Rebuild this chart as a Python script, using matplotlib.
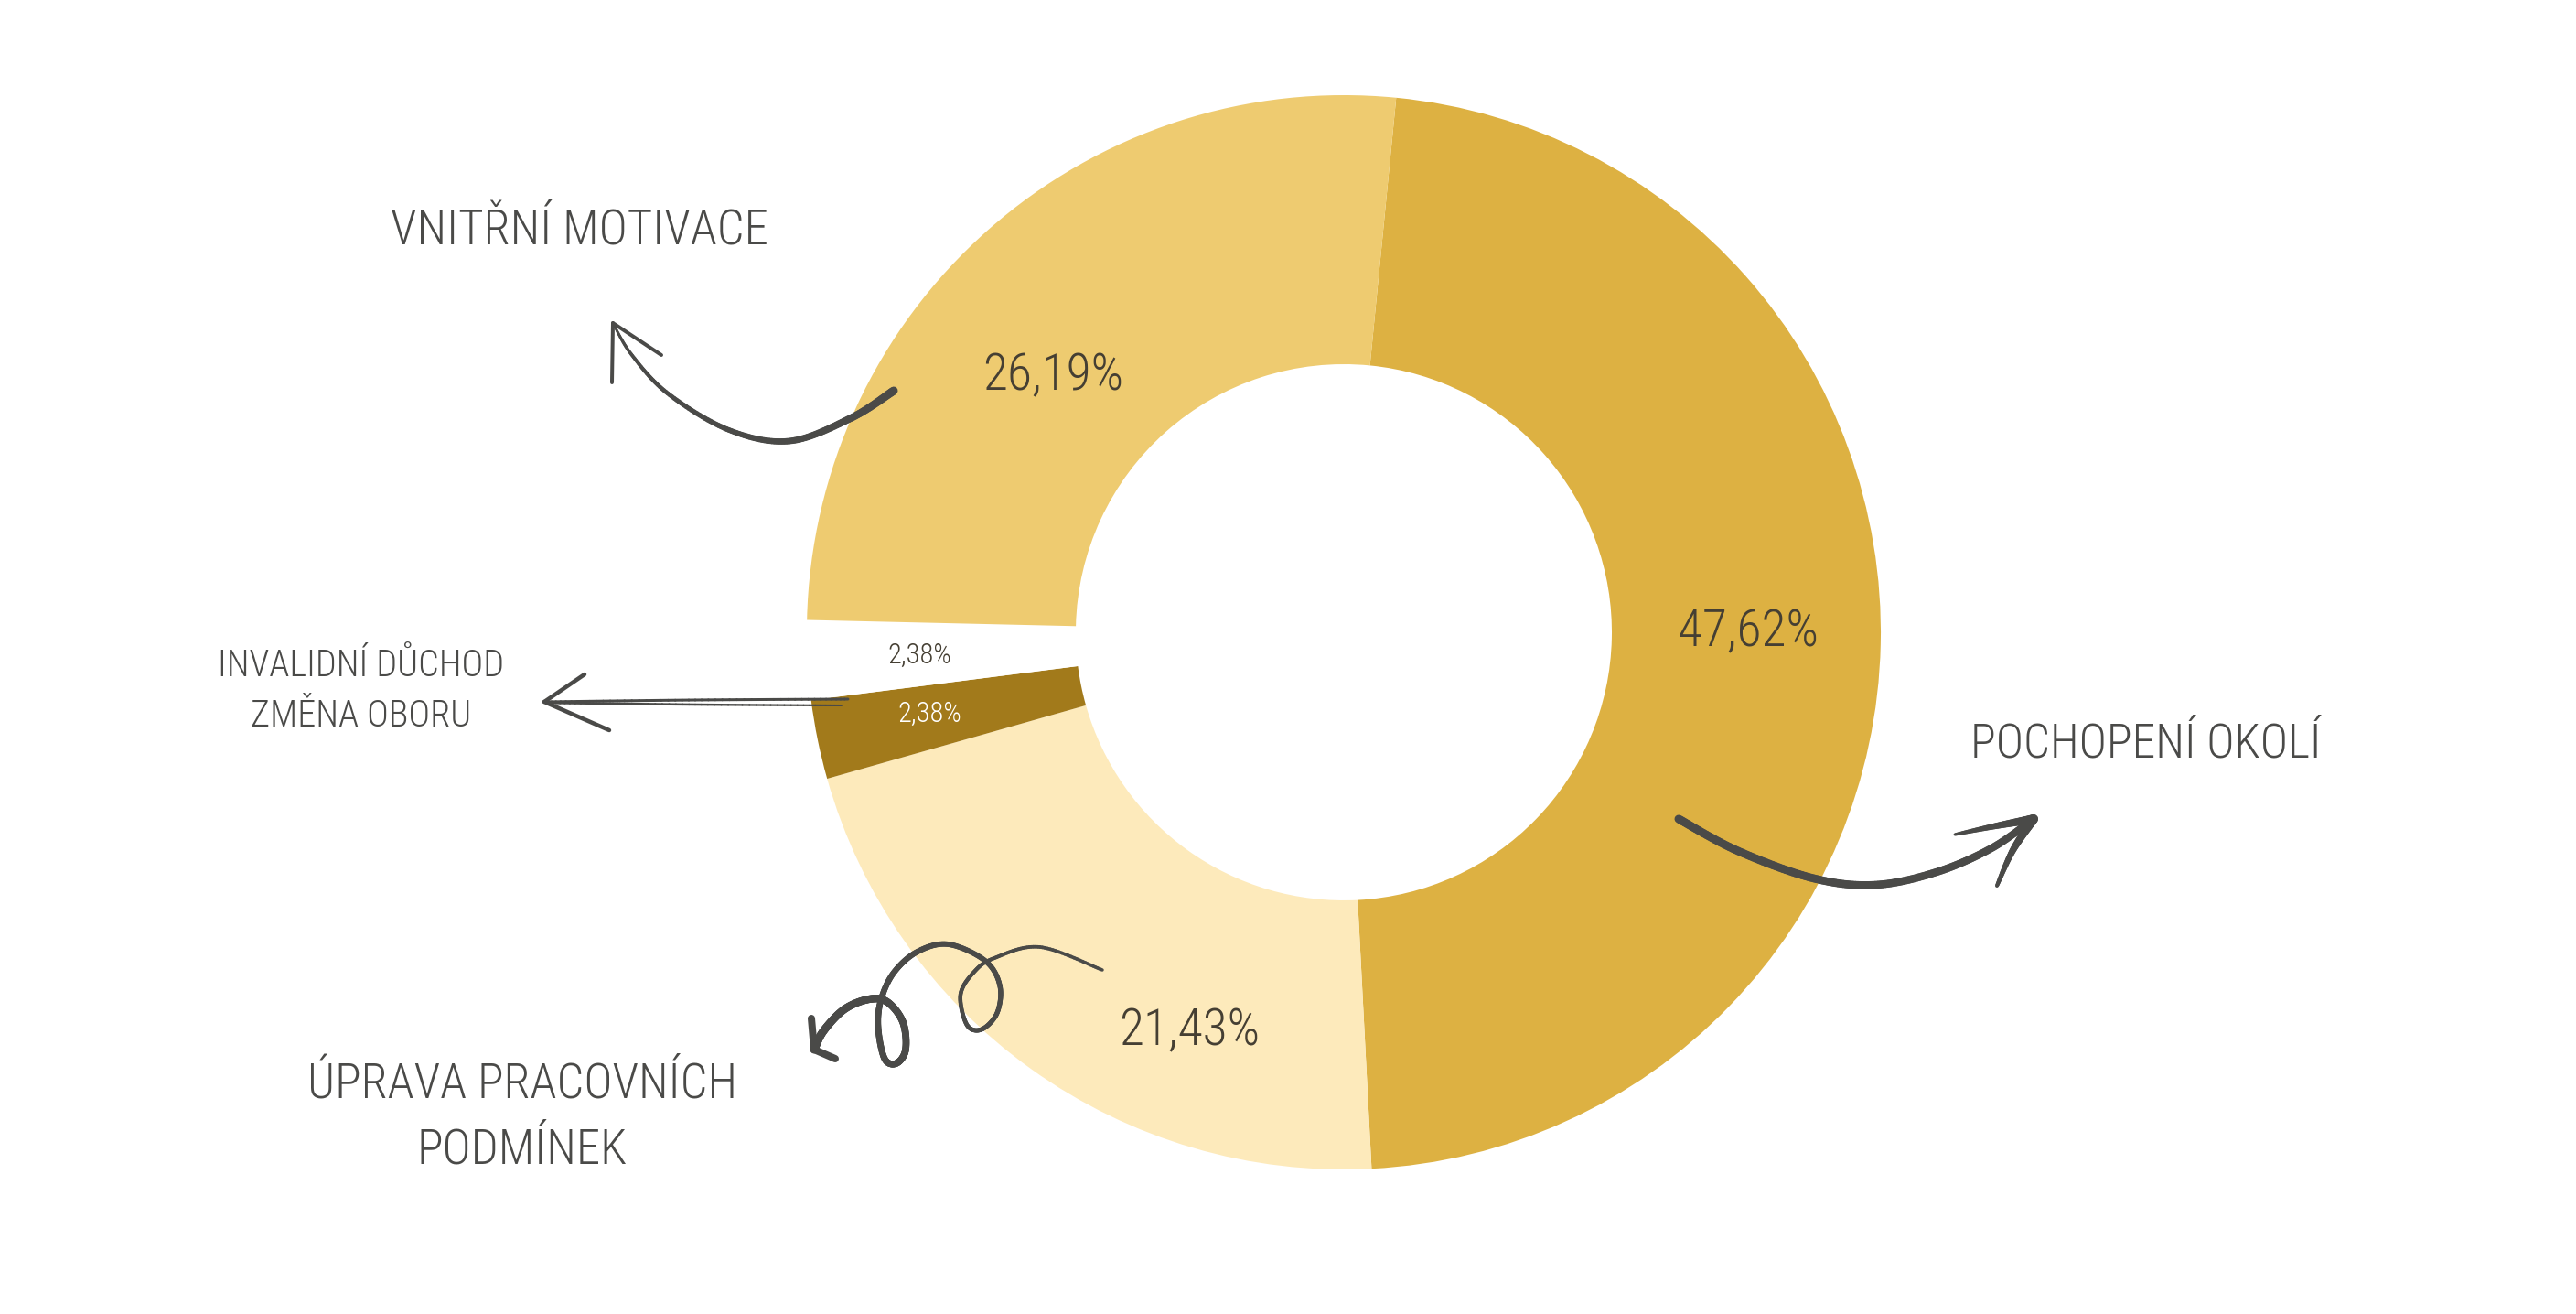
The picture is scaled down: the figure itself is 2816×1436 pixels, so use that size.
import numpy as np
import matplotlib
matplotlib.use("Agg")
import matplotlib.pyplot as plt
from matplotlib import font_manager
from matplotlib.collections import LineCollection

# data
labels = ["POCHOPENÍ OKOLÍ", "ÚPRAVA PRACOVNÍCH\nPODMÍNEK", "ZMĚNA OBORU", "INVALIDNÍ DŮCHOD", "VNITŘNÍ MOTIVACE"]
values = [47.62, 21.43, 2.38, 2.38, 26.19]
colors = ["#DDB142", "#FDEABB", "#A27A1B", "#FFFFFF", "#EECB70"]
pct_text = ["47,62%", "21,43%", "2,38%", "2,38%", "26,19%"]

W, H = 2816, 1436
INK = "#4a4a48"
PCT_INK = "#453f33"

# pick the narrowest font we have
names = {f.name for f in font_manager.fontManager.ttflist}
font = "DejaVu Sans"
for cand in ["Liberation Sans Narrow", "Roboto Condensed", "Open Sans Condensed", "DejaVu Sans"]:
	if cand in names:
		font = cand
		break
TXT = dict(family=font, fontstretch="condensed", fontweight="light")

def Y(y):
	# image y (top down) to axes y
	return H - y

def smooth(pts, n=24):
	# catmull-rom through hand picked points of a pen stroke
	pts = np.array(pts, float)
	P = np.vstack([pts[0], pts, pts[-1]])
	out = []
	t = np.linspace(0, 1, n, endpoint=False)[:, None]
	for i in range(1, len(P) - 2):
		p0, p1, p2, p3 = P[i - 1], P[i], P[i + 1], P[i + 2]
		out.append(0.5 * ((2 * p1) + (-p0 + p2) * t + (2 * p0 - 5 * p1 + 4 * p2 - p3) * t ** 2
			+ (-p0 + 3 * p1 - 3 * p2 + p3) * t ** 3))
	out.append(P[-2][None])
	return np.vstack(out)

def stroke(ax, pts, w0, w1):
	# pen stroke with width going from w0 to w1 (pixels)
	c = smooth(pts)
	c[:, 1] = H - c[:, 1]
	segs = np.stack([c[:-1], c[1:]], axis=1)
	lw = np.linspace(w0, w1, len(segs)) * 0.72
	ax.add_collection(LineCollection(segs, linewidths=lw, colors=INK, capstyle="round", joinstyle="round", zorder=5))

def arm(ax, a, b, w):
	ax.plot([a[0], b[0]], [Y(a[1]), Y(b[1])], color=INK, lw=w * 0.72, solid_capstyle="round", zorder=5)

fig = plt.figure(figsize=(28.16, 14.36), dpi=100)
ax = fig.add_axes([0, 0, 1, 1])

# donut
ax.pie(values, colors=colors, startangle=84.4, counterclock=False, radius=587,
	center=(1469, Y(691)), wedgeprops=dict(width=294, linewidth=0))
ax.set_xlim(0, W)
ax.set_ylim(0, H)
ax.set_aspect("equal")
ax.axis("off")

# percent labels
pct_pos = [(1911, 691), (1300, 1127), (1016, 780), (1005, 716), (1151, 411)]
pct_size = [40, 40, 22, 22, 40]
pct_col = [PCT_INK, PCT_INK, "white", PCT_INK, PCT_INK]
for s, (x, y), fs, c in zip(pct_text, pct_pos, pct_size, pct_col):
	ax.text(x, Y(y), s, ha="center", va="center", fontsize=fs, color=c, zorder=6, **TXT)

# category labels
ax.text(633, Y(252), labels[4], ha="center", va="center", fontsize=38, color=INK, **TXT)
ax.text(2346, Y(813), labels[0], ha="center", va="center", fontsize=37, color=INK, **TXT)
ax.text(395, Y(755), labels[3] + "\n" + labels[2], ha="center", va="center", fontsize=29, color=INK,
	linespacing=1.55, **TXT)
ax.text(571, Y(1221), labels[1], ha="center", va="center", fontsize=38, color=INK,
	linespacing=1.5, **TXT)

# arrow to vnitrni motivace
stroke(ax, [(977, 427), (930, 457), (863, 482), (797, 470), (730, 430), (690, 387), (670, 353)], 9, 2.5)
arm(ax, (670, 353), (723, 388), 4)
arm(ax, (670, 353), (669, 418), 4)

# arrow to pochopeni okoli
stroke(ax, [(1835, 895), (1900, 930), (1983, 960), (2050, 967), (2117, 953), (2177, 927), (2223, 895)], 9, 8)
stroke(ax, [(2223, 895), (2180, 903), (2137, 912)], 10, 3)
stroke(ax, [(2223, 895), (2200, 930), (2183, 968)], 10, 4)

# arrow to invalidni duchod / zmena oboru
stroke(ax, [(927, 764), (760, 765), (595, 767)], 3, 3)
stroke(ax, [(920, 771), (760, 770), (600, 768)], 2, 3)
arm(ax, (595, 767), (639, 737), 4.5)
arm(ax, (595, 767), (666, 798), 4.5)

# curly arrow to uprava pracovnich podminek
curl = [(1205, 1060), (1137, 1035), (1087, 1047), (1065, 1062), (1050, 1087), (1057, 1120), (1073, 1125),
	(1090, 1107), (1093, 1077), (1077, 1050), (1037, 1032), (1003, 1040), (977, 1063), (963, 1093),
	(960, 1123), (967, 1157), (980, 1162), (990, 1147), (987, 1117), (970, 1095), (950, 1092),
	(923, 1103), (900, 1127), (890, 1147)]
stroke(ax, curl, 3.5, 9)
arm(ax, (890, 1147), (887, 1113), 8)
arm(ax, (890, 1147), (913, 1157), 8)

fig.savefig("out.png", dpi=100, facecolor="white")
